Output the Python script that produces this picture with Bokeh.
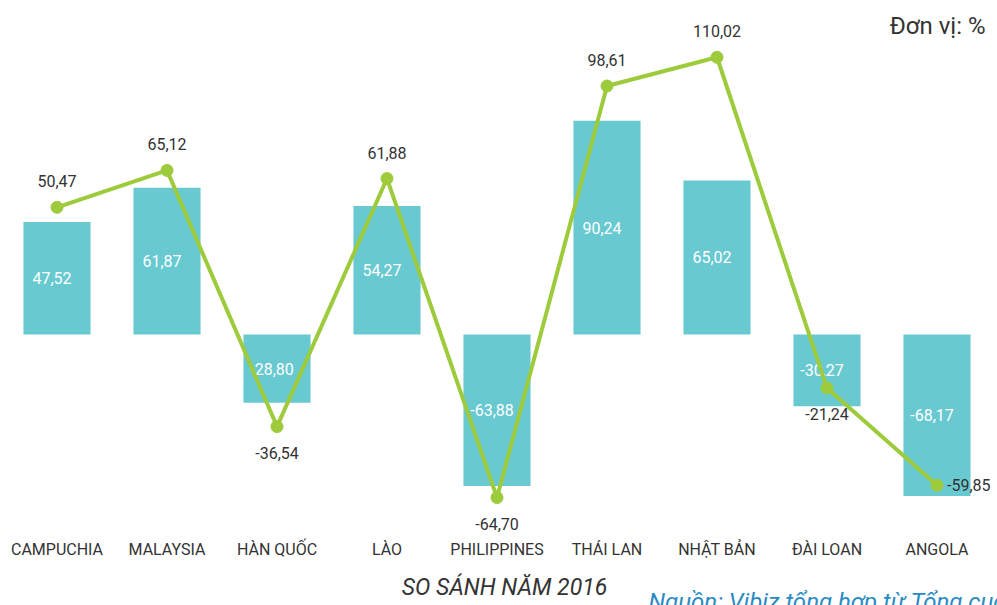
from bokeh.plotting import figure
from bokeh.models import ColumnDataSource, Range1d, Label, LabelSet
from bokeh.core.properties import value
from bokeh.embed import file_html
from bokeh.resources import INLINE

categories = ["CAMPUCHIA", "MALAYSIA", "HÀN QUỐC", "LÀO", "PHILIPPINES",
              "THÁI LAN", "NHẬT BẢN", "ĐÀI LOAN", "ANGOLA"]
bar_values = [47.52, 61.87, -28.80, 54.27, -63.88, 90.24, 65.02, -30.27, -68.17]
line_values = [50.47, 65.12, -36.54, 61.88, -64.70, 98.61, 110.02, -21.24, -59.85]
unit_text = "Đơn vị: %"
title_text = "SO SÁNH NĂM 2016"
source_text = "Nguồn: Vibiz tổng hợp từ Tổng cục Thống kê"

BAR_COLOR = "#69C9D1"
LINE_COLOR = "#9DCB3B"
TEXT_COLOR = "#333333"
FONT = "Roboto"


def fmt(v):
    return f"{v:.2f}".replace(".", ",")


n = len(categories)
xs = list(range(n))
n_last = n - 1
src = ColumnDataSource(dict(
    x=xs,
    cat=categories,
    bar=bar_values,
    bar_mid=[v / 2 for v in bar_values],
    bar_label=[fmt(v) for v in bar_values],
    line=line_values,
    line_label=[fmt(v) for v in line_values],
    lx_off=[10 if i == n_last else 0 for i in xs],
    ly_off=[0 if i == n_last else (-26 if v > 0 else 26) for i, v in zip(xs, line_values)],
    l_align=["left" if i == n_last else "center" for i in xs],
))

W, H = 997, 605
p = figure(width=W, height=H, output_backend="svg", toolbar_location=None,
           x_range=Range1d(-0.5136, 8.55), y_range=Range1d(-114.35, 140.93),
           min_border=0, outline_line_color=None,
           background_fill_color="white", border_fill_color="white")
p.extra_y_ranges = {"line": Range1d(-107.54, 132.54)}
p.grid.visible = False
p.axis.visible = False

p.vbar(x="x", top="bar", bottom=0, width=0.61, source=src,
       fill_color=BAR_COLOR, line_color=None)
p.text(x="x", y="bar_mid", text="bar_label", source=src, text_color="white",
       text_font=value(FONT), text_font_size="16px", text_align="center",
       text_baseline="middle", x_offset=-5)

p.line(x="x", y="line", source=src, y_range_name="line",
       line_color=LINE_COLOR, line_width=4)
p.scatter(x="x", y="line", source=src, y_range_name="line", size=12,
          fill_color=LINE_COLOR, line_color=LINE_COLOR)
p.text(x="x", y="line", text="line_label", source=src, y_range_name="line",
       text_color=TEXT_COLOR, text_font=value(FONT), text_font_size="16px",
       text_align="l_align", text_baseline="middle",
       x_offset="lx_off", y_offset="ly_off")

# category labels: x from the data scale, y in screen px from the bottom
p.add_layout(LabelSet(x="x", y=H - 549, y_units="screen", text="cat", source=src,
                      text_font=value(FONT), text_font_size="16px",
                      text_color=TEXT_COLOR, text_align="center",
                      text_baseline="middle"))

p.add_layout(Label(x=985, y=H - 25, x_units="screen", y_units="screen",
                   text=unit_text, text_font=FONT, text_font_size="24px",
                   text_color=TEXT_COLOR, text_align="right", text_baseline="middle"))
p.add_layout(Label(x=504, y=H - 587, x_units="screen", y_units="screen",
                   text=title_text, text_font=FONT, text_font_size="23px",
                   text_font_style="italic", text_color=TEXT_COLOR,
                   text_align="center", text_baseline="middle"))
p.add_layout(Label(x=648, y=H - 587, x_units="screen", y_units="screen",
                   text=source_text, text_font=FONT, text_font_size="24px",
                   text_font_style="italic", text_color="#2A8BC4",
                   text_align="left", text_baseline="top"))

open("out.html", "w").write(file_html(p, INLINE))
